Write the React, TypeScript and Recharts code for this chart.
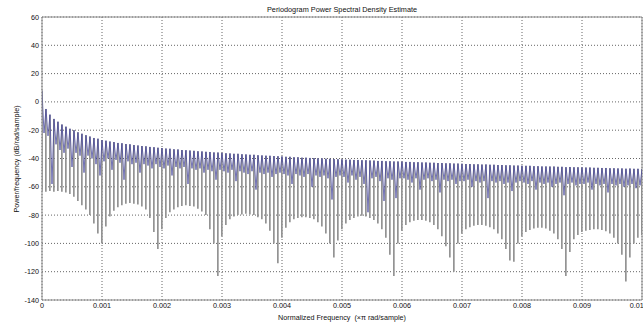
import { type FC } from "react";
import {
  ComposedChart,
  Bar,
  Line,
  XAxis,
  YAxis,
  CartesianGrid,
  ReferenceLine,
} from "recharts";

// periodogram bins, 150 across 0..0.01 (x pi rad/sample)
const binStep = 0.01 / 150;

// peak level of each bin (dB/rad/sample)
const peakDb = [
  8, -5, -9, -12, -14, -16, -17.5, -19, -20, -21.5, -22.5, -23.5, -24.5, -25.5, -26,
  -27, -27.4, -28, -28.4, -29, -29.2, -29.8, -30, -30.5, -30.8, -31.2, -31.4, -31.8, -32, -32.4,
  -32.6, -33, -33.1, -33.5, -33.6, -34, -34.1, -34.4, -34.6, -34.9, -35, -35.3, -35.4, -35.7, -35.8,
  -36, -36.3, -36.4, -36.7, -36.7, -37, -37.1, -37.4, -37.4, -37.7, -37.8, -38, -38.1, -38.3, -38.4,
  -38.5, -38.8, -38.8, -39.1, -39.1, -39.4, -39.4, -39.6, -39.7, -39.9, -39.9, -40.2, -40.2, -40.4, -40.5,
  -40.6, -40.8, -40.8, -41, -41, -41.2, -41.2, -41.4, -41.5, -41.7, -41.7, -41.9, -41.9, -42.1, -42.1,
  -42.2, -42.4, -42.4, -42.6, -42.6, -42.8, -42.8, -43, -43, -43.2, -43.2, -43.4, -43.4, -43.6, -43.6,
  -43.7, -43.9, -43.9, -44.1, -44.1, -44.3, -44.2, -44.4, -44.4, -44.6, -44.6, -44.8, -44.8, -45, -45,
  -45.1, -45.2, -45.2, -45.4, -45.4, -45.6, -45.6, -45.7, -45.7, -45.9, -45.9, -46.1, -46, -46.2, -46.2,
  -46.3, -46.4, -46.4, -46.6, -46.6, -46.7, -46.7, -46.9, -46.9, -47, -47, -47.2, -47.1, -47.3, -47.3,
  -47.4,
];

// blue trace minima between peaks
const troughDb = [
  -22, -24, -58, -30, -34, -36, -33, -46, -36, -38, -50, -38, -40, -44, -52,
  -42, -40, -48, -41, -43, -55, -42, -44, -43, -50, -44, -45, -47, -44, -46,
  -47, -45, -52, -46, -47, -46, -58, -47, -48, -47, -50, -48, -49, -55, -48,
  -49, -50, -48, -56, -49, -50, -51, -49, -62, -50, -51, -50, -53, -51, -50,
  -51, -52, -58, -51, -52, -53, -51, -60, -52, -53, -52, -54, -69, -53, -52,
  -53, -57, -52, -55, -53, -58, -78, -54, -53, -56, -70, -54, -55, -68, -54,
  -54, -55, -57, -54, -62, -55, -54, -56, -55, -64, -55, -56, -55, -58, -56,
  -56, -55, -60, -56, -57, -56, -68, -56, -57, -56, -58, -57, -63, -57, -56,
  -57, -58, -56, -62, -57, -58, -57, -60, -58, -57, -66, -58, -57, -59, -58,
  -58, -57, -62, -58, -59, -58, -64, -58, -59, -58, -60, -59, -58, -61, -59,
];

// lower end of the grey spectrum at each bin
const floorDb = [
  -63, -63.5, -63, -63.5, -63, -63.5, -64, -65, -67, -70, -73, -76, -80, -86, -93,
  -100, -88, -81, -77, -74.5, -73, -72, -71.5, -72, -72.5, -74, -76, -82, -92, -104,
  -90, -82, -78, -76, -74.5, -73.5, -73, -73.5, -74, -75.5, -77.5, -80, -90, -100, -123,
  -95, -87, -83, -81, -80, -79.5, -79, -79.5, -80, -81.5, -83, -86, -91, -100, -114,
  -96, -89, -85, -83, -82, -81.5, -81.5, -82, -83, -85, -88, -93, -100, -110, -98,
  -90, -86, -83.5, -82, -81, -80.5, -81, -82, -83.5, -86, -90, -96, -108, -123, -100,
  -91, -87, -85, -84, -83.5, -83.5, -84, -85, -87, -90, -95, -102, -110, -120, -100,
  -93, -90, -88.5, -87.5, -87, -87, -87.5, -88.5, -90, -93, -97, -104, -112, -113, -100,
  -95, -92, -90.5, -89.5, -89, -89, -89.5, -91, -93, -97, -104, -123, -106, -97, -94,
  -92, -91, -90.5, -90, -90, -90.5, -91.5, -93, -96, -100, -108, -127, -110, -100, -96,
  -94,
];

const xTicks = [0, 0.001, 0.002, 0.003, 0.004, 0.005, 0.006, 0.007, 0.008, 0.009, 0.01];
const yTicks = [-140, -120, -100, -80, -60, -40, -20, 0, 20, 40, 60];

const bins = peakDb.map((top, i) => ({
  freq: i * binStep,
  span: [floorDb[i], top],
}));

const trace = peakDb.flatMap((top, i) => {
  const pts = [{ freq: i * binStep, db: top }];
  if (i < troughDb.length) pts.push({ freq: (i + 0.5) * binStep, db: troughDb[i] });
  return pts;
});

const font = "'Liberation Sans', Arial, Helvetica, sans-serif";
const tickStyle = { fill: "#111", fontSize: 7.2, fontFamily: font };

const App: FC = () => {
  return (
    <div
      style={{
        position: "absolute",
        left: 0,
        top: 0,
        width: 643,
        height: 324,
        background: "#fff",
        overflow: "hidden",
        fontFamily: font,
        color: "#111",
      }}
    >
      <ComposedChart
        width={643}
        height={324}
        data={bins}
        margin={{ top: 17, right: 1, bottom: 0, left: 6 }}
      >
        <CartesianGrid stroke="#666" strokeDasharray="1 2" />
        <XAxis
          type="number"
          dataKey="freq"
          domain={[0, 0.01]}
          ticks={xTicks}
          allowDataOverflow
          height={24}
          tick={tickStyle}
          tickLine={false}
          tickSize={0}
          tickMargin={3}
          axisLine={{ stroke: "#888" }}
          tickFormatter={(v) => String(v)}
        />
        <YAxis
          type="number"
          domain={[-140, 60]}
          ticks={yTicks}
          allowDataOverflow
          width={36}
          tick={tickStyle}
          tickLine={false}
          tickSize={0}
          tickMargin={3}
          axisLine={{ stroke: "#888" }}
        />
        <ReferenceLine y={60} stroke="#888" />
        <ReferenceLine x={0.01} stroke="#888" />
        <Bar
          dataKey="span"
          fill="#939393"
          barSize={1.7}
          isAnimationActive={false}
        />
        <Line
          data={trace}
          dataKey="db"
          type="linear"
          stroke="#46469a"
          strokeOpacity={0.85}
          strokeWidth={0.9}
          dot={false}
          isAnimationActive={false}
        />
      </ComposedChart>
      <div
        style={{
          position: "absolute",
          left: 42,
          width: 600,
          top: 5,
          textAlign: "center",
          fontSize: 7.3,
          lineHeight: "9px",
        }}
      >
        Periodogram Power Spectral Density Estimate
      </div>
      <div
        style={{
          position: "absolute",
          left: 42,
          width: 600,
          top: 313,
          textAlign: "center",
          fontSize: 7.2,
          lineHeight: "9px",
          whiteSpace: "pre",
        }}
      >
        {"Normalized Frequency  (\u00d7\u03c0 rad/sample)"}
      </div>
      <div
        style={{
          position: "absolute",
          left: 16,
          top: 159,
          transform: "translate(-50%, -50%) rotate(-90deg)",
          fontSize: 7.2,
          lineHeight: "9px",
          whiteSpace: "nowrap",
        }}
      >
        Power/frequency (dB/rad/sample)
      </div>
    </div>
  );
};

export default App;
